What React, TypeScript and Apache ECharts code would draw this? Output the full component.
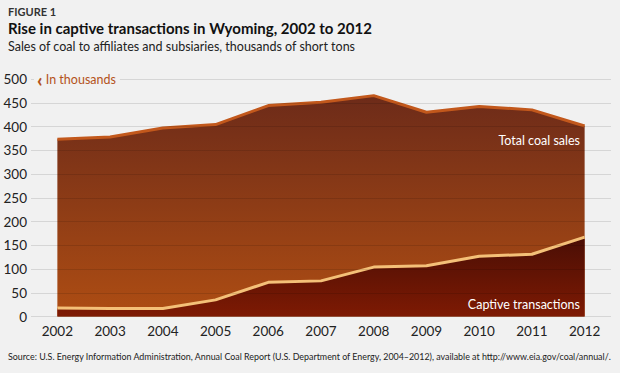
import React, { useEffect, useRef } from "react";
import * as echarts from "echarts";

const years = ["2002", "2003", "2004", "2005", "2006", "2007", "2008", "2009", "2010", "2011", "2012"];
const totalSales = [373, 378, 397, 404, 444, 451, 465, 430, 442, 435, 401];
const captive = [18, 17, 17, 35, 72, 75, 104, 107, 127, 131, 167];
const yTicks = { min: 0, max: 500, interval: 50 };

const FONT = "Lato, 'Open Sans', sans-serif";

export default function App() {
  const ref = useRef<HTMLDivElement>(null);
  useEffect(() => {
    if (!ref.current) return;
    const chart = echarts.init(ref.current, null, { renderer: "svg" });
    chart.setOption({
      animation: false,
      backgroundColor: "#f1f1f1",
      textStyle: { fontFamily: FONT },
      grid: { left: 31, right: 9, top: 79, bottom: 56.5, containLabel: false },
      xAxis: {
        type: "category",
        data: years,
        boundaryGap: true,
        axisLine: { show: false },
        axisTick: { show: false },
        axisLabel: { color: "#222", fontSize: 13.5, margin: 7, fontFamily: FONT },
        splitLine: { show: false },
      },
      yAxis: {
        type: "value",
        min: yTicks.min,
        max: yTicks.max,
        interval: yTicks.interval,
        z: 5,
        axisLine: { show: false },
        axisTick: { show: false },
        axisLabel: { color: "#222", fontSize: 13.5, margin: 4, fontFamily: FONT },
        splitLine: { show: true, lineStyle: { color: "rgba(0,0,0,0.11)", width: 1.2 } },
      },
      series: [
        {
          name: "Total coal sales",
          type: "line",
          data: totalSales,
          symbol: "none",
          z: 2,
          lineStyle: { color: "#c2581c", width: 3 },
          areaStyle: {
            opacity: 1,
            color: new echarts.graphic.LinearGradient(0, 0, 0, 1, [
              { offset: 0, color: "#6d2b19" },
              { offset: 1, color: "#ae4d13" },
            ]),
          },
        },
        {
          name: "Captive transactions",
          type: "line",
          data: captive,
          symbol: "none",
          z: 3,
          lineStyle: { color: "#f4c078", width: 3 },
          areaStyle: {
            opacity: 1,
            color: new echarts.graphic.LinearGradient(0, 0, 0, 1, [
              { offset: 0, color: "#4a0e05" },
              { offset: 1, color: "#7e1a03" },
            ]),
          },
        },
      ],
      graphic: [
        {
          type: "text",
          left: 8,
          top: 6,
          style: { text: "FIGURE 1", fill: "#333", fontSize: 11, fontWeight: "bold", fontFamily: FONT },
        },
        {
          type: "text",
          left: 8,
          top: 20,
          style: {
            text: "Rise in captive transactions in Wyoming, 2002 to 2012",
            fill: "#111",
            fontSize: 15,
            fontWeight: "bold",
            fontFamily: FONT,
          },
        },
        {
          type: "text",
          left: 8,
          top: 40,
          style: {
            text: "Sales of coal to affiliates and subsiaries, thousands of short tons",
            fill: "#222",
            fontSize: 12.5,
            fontFamily: FONT,
          },
        },
        {
          type: "text",
          x: 34,
          y: 79,
          z: 100,
          style: {
            text: "{a|‹} In thousands",
            fill: "#b4531b",
            fontSize: 12.5,
            fontFamily: FONT,
            verticalAlign: "middle",
            backgroundColor: "#f1f1f1",
            padding: [0, 4, 0, 3],
            rich: {
              a: { fontSize: 19, fontWeight: 900, fill: "#b4531b", fontFamily: FONT },
            },
          },
        },
        {
          type: "text",
          x: 580,
          y: 140,
          z: 100,
          style: {
            text: "Total coal sales",
            fill: "#ffffff",
            fontSize: 12.5,
            fontFamily: FONT,
            align: "right",
            verticalAlign: "middle",
          },
        },
        {
          type: "text",
          x: 580,
          y: 304,
          z: 100,
          style: {
            text: "Captive transactions",
            fill: "#ffffff",
            fontSize: 12.5,
            fontFamily: FONT,
            align: "right",
            verticalAlign: "middle",
          },
        },
        {
          type: "text",
          left: 8,
          top: 352,
          style: {
            text: "Source: U.S. Energy Information Administration, Annual Coal Report (U.S. Department of Energy, 2004–2012), available at http://www.eia.gov/coal/annual/.",
            fill: "#222",
            fontSize: 8.9,
            fontFamily: FONT,
          },
        },
      ],
    });
    return () => chart.dispose();
  }, []);
  return (
    <div
      ref={ref}
      style={{ position: "fixed", left: 0, top: 0, width: 620, height: 373, background: "#f1f1f1" }}
    />
  );
}
